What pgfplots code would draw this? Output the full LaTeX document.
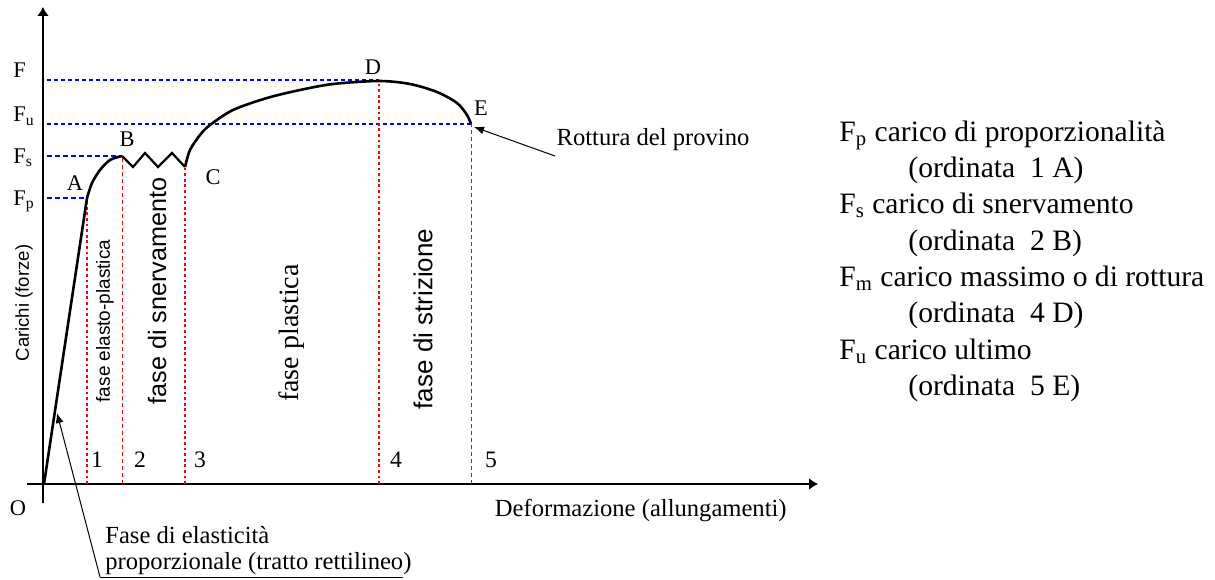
\documentclass[border=0pt]{standalone}
\usepackage{fontspec}
\setmainfont{Liberation Serif}
\setsansfont{Liberation Sans}
\usepackage{pgfplots}
\pgfplotsset{compat=1.18}
\usetikzlibrary{arrows.meta}
\newcommand{\ptfont}{\fontsize{11.2}{13}\selectfont}
\newcommand{\numfont}{\fontsize{11.8}{13}\selectfont}
\newcommand{\annfont}{\fontsize{12.3}{14}\selectfont}
\newcommand{\legfont}{\fontsize{14.8}{17}\selectfont}
\begin{document}
\begin{tikzpicture}
\begin{axis}[
  axis lines=middle,
  scale only axis,
  width=395.5pt, height=248pt,
  xmin=-16, xmax=775, ymin=-19, ymax=477,
  xtick=\empty, ytick=\empty,
  clip=false,
  axis line style={line width=0.9pt, -{Latex[length=4.5pt,width=6pt]}},
]
% bounding box
\path (axis cs:-43,-95) rectangle (axis cs:1172,484);
% blue reference lines
\addplot[blue, line width=1pt, dash pattern=on 2pt off 1.5pt] coordinates {(4,404) (336,404)};
\addplot[blue, line width=1pt, dash pattern=on 2pt off 1.5pt] coordinates {(4,360) (428,360)};
\addplot[blue, line width=0.6pt, dash pattern=on 2.5pt off 1.5pt] coordinates {(4,328) (79,328)};
\addplot[blue, line width=0.6pt, dash pattern=on 2.5pt off 1.5pt] coordinates {(4,286) (44,286)};
% red verticals
\addplot[red, line width=1pt, dash pattern=on 1.4pt off 1.4pt] coordinates {(44,0) (44,286)};
\addplot[red, line width=1pt, dash pattern=on 1.4pt off 1.4pt] coordinates {(142,0) (142,317)};
\addplot[red, line width=1pt, dash pattern=on 1.4pt off 1.4pt] coordinates {(336,0) (336,403)};
\addplot[red, line width=0.5pt, dash pattern=on 2pt off 1.5pt] coordinates {(79,0) (79,328)};
\addplot[red, line width=0.5pt, dash pattern=on 2pt off 1.5pt] coordinates {(428,0) (428,360)};
% curve
\addplot[black, line width=1.3pt] coordinates {(1,0) (44,286)};
\addplot[black, line width=1.3pt, smooth] coordinates {(44,286) (49,301) (57,314) (67,324) (79,328)};
\addplot[black, line width=1.1pt] coordinates {(79,328) (90,317) (102,331) (115,317) (129,331) (142,317)};
\addplot[black, line width=1.3pt, smooth] coordinates {(142,317) (147,334) (157,349) (167,359) (190,374) (224,386) (257,394) (290,400) (336,403) (367,400) (394,392) (414,381) (424,369) (428,360)};
% y labels
\node[anchor=base west, inner sep=0pt, font=\ptfont] at (axis cs:-30,406) {F};
\node[anchor=base west, inner sep=0pt, font=\ptfont] at (axis cs:-30,362) {F\textsubscript{u}};
\node[anchor=base west, inner sep=0pt, font=\ptfont] at (axis cs:-30,321) {F\textsubscript{s}};
\node[anchor=base west, inner sep=0pt, font=\ptfont] at (axis cs:-30,279) {F\textsubscript{p}};
% point labels
\node[font=\ptfont] at (axis cs:32,301) {A};
\node[font=\ptfont] at (axis cs:84,345) {B};
\node[font=\ptfont] at (axis cs:170,307) {C};
\node[font=\ptfont] at (axis cs:330,417) {D};
\node[font=\ptfont] at (axis cs:438,376) {E};
\node[font=\ptfont] at (axis cs:-25,-24) {O};
\node[font=\numfont] at (axis cs:54,24) {1};
\node[font=\numfont] at (axis cs:97,24) {2};
\node[font=\numfont] at (axis cs:157,24) {3};
\node[font=\numfont] at (axis cs:353,24) {4};
\node[font=\numfont] at (axis cs:448,24) {5};
% rotated phase labels
\node[rotate=90, font=\sffamily\fontsize{9.3}{10}\selectfont] at (axis cs:-19,181) {Carichi (forze)};
\node[rotate=90, font=\sffamily\fontsize{9.5}{11}\selectfont] at (axis cs:62,163) {fase elasto-plastica};
\node[rotate=90, font=\sffamily\fontsize{12.6}{14}\selectfont] at (axis cs:114,193) {fase di snervamento};
\node[rotate=90, font=\fontsize{14}{16}\selectfont] at (axis cs:249,151) {fase plastica};
\node[rotate=90, font=\sffamily\fontsize{13}{15}\selectfont] at (axis cs:380,165) {fase di strizione};
% annotations
\node[font=\annfont] at (axis cs:610,344) {Rottura del provino};
\draw[line width=0.5pt, -{Latex[length=5pt,width=4pt]}] (axis cs:512,328) -- (axis cs:431,357);
\node[anchor=east, inner sep=0pt, font=\annfont] at (axis cs:744,-26) {Deformazione (allungamenti)};
\node[anchor=base west, inner sep=0pt, font=\annfont] at (axis cs:62,-59) {Fase di elasticità};
\node[anchor=base west, inner sep=0pt, font=\annfont] at (axis cs:62,-85) {proporzionale (tratto rettilineo)};
\draw[line width=0.5pt] (axis cs:360,-93) -- (axis cs:57,-93);
\draw[line width=0.5pt, -{Latex[length=5pt,width=4pt]}] (axis cs:57,-93) -- (axis cs:14,71);
% legend text
\node[anchor=base west, inner sep=0pt, font=\legfont] at (axis cs:796,343) {F\textsubscript{p} carico di proporzionalità};
\node[anchor=base west, inner sep=0pt, font=\legfont] at (axis cs:865,307) {(ordinata~ 1 A)};
\node[anchor=base west, inner sep=0pt, font=\legfont] at (axis cs:796,271) {F\textsubscript{s} carico di snervamento};
\node[anchor=base west, inner sep=0pt, font=\legfont] at (axis cs:865,234) {(ordinata~ 2 B)};
\node[anchor=base west, inner sep=0pt, font=\legfont] at (axis cs:796,198) {F\textsubscript{m} carico massimo o di rottura};
\node[anchor=base west, inner sep=0pt, font=\legfont] at (axis cs:865,162) {(ordinata~ 4 D)};
\node[anchor=base west, inner sep=0pt, font=\legfont] at (axis cs:796,125) {F\textsubscript{u} carico ultimo};
\node[anchor=base west, inner sep=0pt, font=\legfont] at (axis cs:865,89) {(ordinata~ 5 E)};
\end{axis}
\end{tikzpicture}
\end{document}
